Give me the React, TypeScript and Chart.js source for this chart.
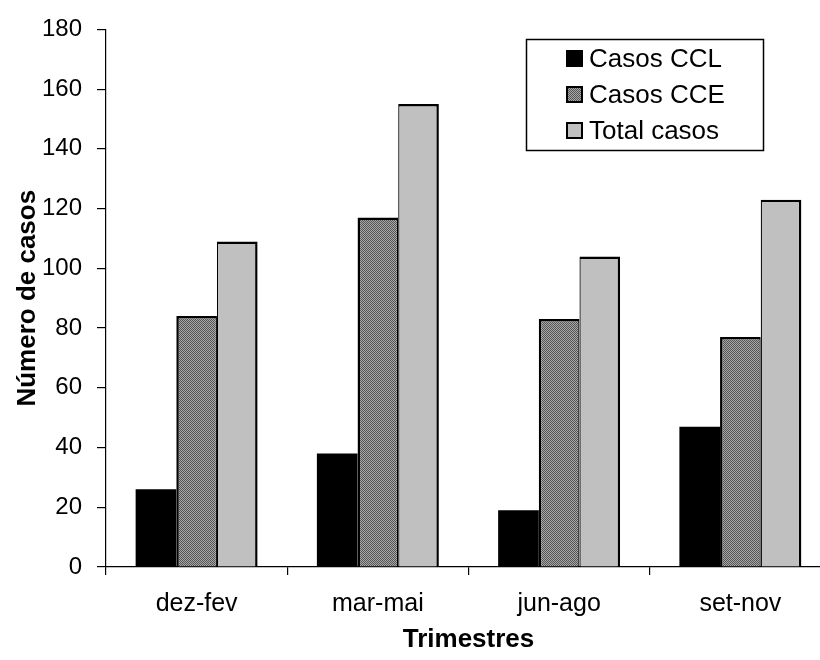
import React, { useEffect, useRef } from "react";
import { Chart, registerables } from "chart.js";

Chart.register(...registerables);

const categories = ["dez-fev", "mar-mai", "jun-ago", "set-nov"];
const casosCCL = [26, 38, 19, 47];
const casosCCE = [84, 117, 83, 77];
const totalCasos = [109, 155, 104, 123];
const seriesNames = ["Casos CCL", "Casos CCE", "Total casos"];
const yTicksMin = 0;
const yTicksMax = 180;
const yTicksStep = 20;

const FONT = "Arial, 'Liberation Sans', sans-serif";

function makePattern(): CanvasPattern | string {
  const c = document.createElement("canvas");
  c.width = 2;
  c.height = 2;
  const g = c.getContext("2d");
  if (!g) return "#808080";
  g.fillStyle = "#a8a8a8";
  g.fillRect(0, 0, 2, 2);
  g.fillStyle = "#555555";
  g.fillRect(0, 0, 1, 1);
  g.fillRect(1, 1, 1, 1);
  const ctx = document.createElement("canvas").getContext("2d");
  return (ctx && ctx.createPattern(c, "repeat")) || "#808080";
}

export default function App() {
  const ref = useRef<HTMLCanvasElement | null>(null);

  useEffect(() => {
    if (!ref.current) return;
    const pattern = makePattern();
    const fills: any[] = ["#000000", pattern, "#c0c0c0"];

    const legendPlugin = {
      id: "boxLegend",
      afterDraw(chart: any) {
        const ctx = chart.ctx;
        ctx.save();
        const bx = 526.5, by = 39.5, bw = 237, bh = 111;
        ctx.lineWidth = 1.5;
        ctx.strokeStyle = "#000";
        ctx.fillStyle = "#fff";
        ctx.fillRect(bx, by, bw, bh);
        ctx.strokeRect(bx, by, bw, bh);
        ctx.font = "26px " + FONT;
        ctx.textBaseline = "alphabetic";
        ctx.textAlign = "left";
        for (let i = 0; i < seriesNames.length; i++) {
          const base = 67 + i * 36;
          const sx = 566, sy = base - 17, s = 17;
          ctx.fillStyle = "#000";
          ctx.fillRect(sx, sy, s, s);
          ctx.fillStyle = fills[i];
          ctx.fillRect(sx + 2, sy + 2, s - 4, s - 4);
          ctx.fillStyle = "#000";
          ctx.fillText(seriesNames[i], 589, base);
        }
        ctx.restore();
      },
    };

    const chart = new Chart(ref.current, {
      type: "bar",
      data: {
        labels: categories,
        datasets: [
          {
            label: seriesNames[0],
            data: casosCCL,
            backgroundColor: "#000000",
            borderColor: "#000000",
            borderWidth: 0,
          },
          {
            label: seriesNames[1],
            data: casosCCE,
            backgroundColor: pattern as any,
            borderColor: "#000000",
            borderWidth: { top: 2.5, left: 2.5, right: 1.25, bottom: 0 } as any,
          },
          {
            label: seriesNames[2],
            data: totalCasos,
            backgroundColor: "#c0c0c0",
            borderColor: "#000000",
            borderWidth: { top: 2.5, left: 1.25, right: 2.5, bottom: 0 } as any,
          },
        ],
      },
      options: {
        animation: false,
        responsive: false,
        layout: { padding: { top: 25, right: 19, left: 0, bottom: 0 } },
        datasets: {
          bar: { categoryPercentage: 0.673, barPercentage: 1.0 },
        },
        plugins: {
          legend: { display: false },
          tooltip: { enabled: false },
        },
        scales: {
          x: {
            offset: true,
            grid: {
              offset: true,
              drawOnChartArea: false,
              drawTicks: true,
              tickLength: 8,
              color: "#000",
              lineWidth: 1.2,
            },
            border: { color: "#000", width: 1.2 },
            ticks: {
              color: "#000",
              padding: 14,
              font: { family: FONT, size: 25 },
              maxRotation: 0,
            },
            title: {
              display: true,
              text: "Trimestres",
              color: "#000",
              font: { family: FONT, size: 26, weight: "bold" },
              padding: { top: 0, bottom: 5 },
            },
            afterFit: (scale: any) => {
              scale.height = 93;
            },
          },
          y: {
            min: yTicksMin,
            max: yTicksMax,
            grid: {
              drawOnChartArea: false,
              drawTicks: true,
              tickLength: 9,
              color: "#000",
              lineWidth: 1.2,
            },
            border: { color: "#000", width: 1.2 },
            ticks: {
              stepSize: yTicksStep,
              color: "#000",
              padding: 15,
              font: { family: FONT, size: 24 },
            },
            title: {
              display: true,
              text: "Número de casos",
              color: "#000",
              font: { family: FONT, size: 26, weight: "bold" },
              padding: { top: 12, bottom: 0 },
            },
            afterFit: (scale: any) => {
              scale.width = 106;
            },
          },
        },
      },
      plugins: [legendPlugin],
    });
    return () => chart.destroy();
  }, []);

  return (
    <div
      style={{
        position: "fixed",
        left: 0,
        top: 0,
        width: 820,
        height: 660,
        overflow: "hidden",
        background: "#fff",
      }}
    >
      <canvas ref={ref} width={850} height={660} style={{ display: "block" }} />
    </div>
  );
}
